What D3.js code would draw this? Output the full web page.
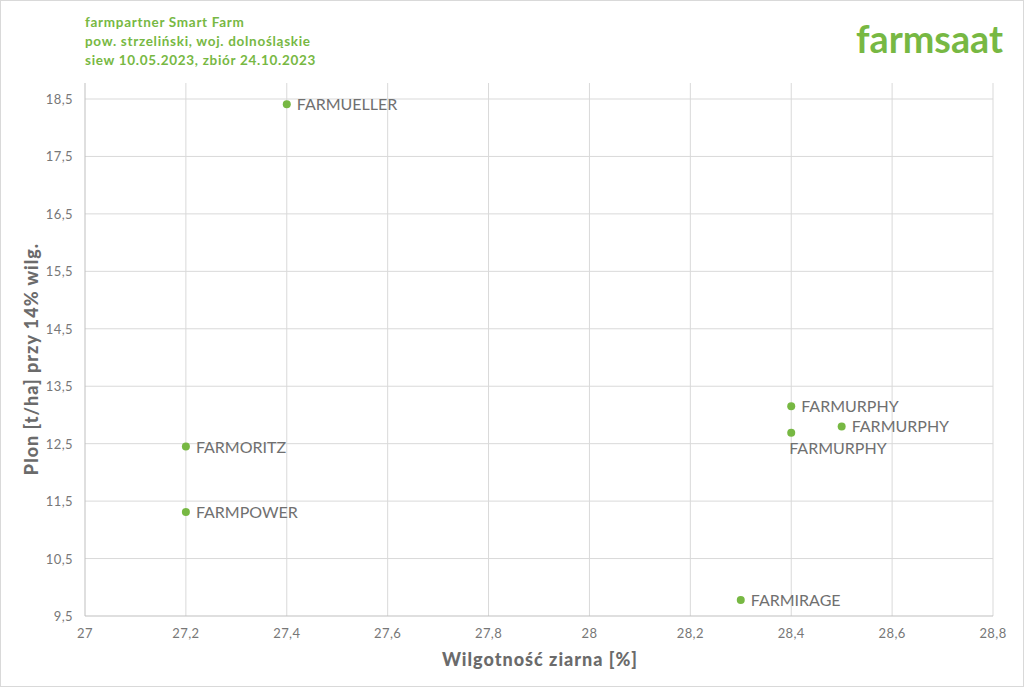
<!DOCTYPE html>
<html><head><meta charset="utf-8">
<script src="https://cdn.jsdelivr.net/npm/d3@7"></script>
<style>body{margin:0;background:#fff;}svg{display:block;}</style>
</head><body>
<svg id="c" width="1024" height="687"></svg>
<script>
const names = ["FARMUELLER","FARMORITZ","FARMPOWER","FARMURPHY","FARMURPHY","FARMURPHY","FARMIRAGE"];
const moisture = [27.4, 27.2, 27.2, 28.4, 28.5, 28.4, 28.3];
const yieldT = [18.41, 12.45, 11.31, 13.15, 12.80, 12.69, 9.78];
const labelPos = ["right","right","right","right","right","below","right"];
const xTicks = [27, 27.2, 27.4, 27.6, 27.8, 28, 28.2, 28.4, 28.6, 28.8];
const yTicks = [9.5, 10.5, 11.5, 12.5, 13.5, 14.5, 15.5, 16.5, 17.5, 18.5];
const titleLines = ["farmpartner Smart Farm","pow. strzeliński, woj. dolnośląskie","siew 10.05.2023, zbiór 24.10.2023"];

const green = "#77b843", gray = "#6b6b6b";
const svg = d3.select("#c");
const font = "Lato, 'Open Sans', sans-serif";
svg.append("rect").attr("x",0.5).attr("y",0.5).attr("width",1023).attr("height",686).attr("fill","#fff").attr("stroke","#d9d9d9");

const x = d3.scaleLinear().domain([27, 28.8]).range([85, 993]);
const y = d3.scaleLinear().domain([9.5, 18.5]).range([616, 99]);
const plotTop = 83;
const fmt = v => String(+v.toFixed(1)).replace(".", ",");

const g = svg.append("g");
// grid
g.selectAll(".vg").data(xTicks.slice(1)).join("line")
  .attr("x1",d=>x(d)).attr("x2",d=>x(d)).attr("y1",plotTop).attr("y2",y(9.5))
  .attr("stroke","#d9d9d9").attr("stroke-width",1);
g.selectAll(".hg").data(yTicks.slice(1)).join("line")
  .attr("x1",x(27)).attr("x2",x(28.8)).attr("y1",d=>y(d)).attr("y2",d=>y(d))
  .attr("stroke","#d9d9d9").attr("stroke-width",1);
// axes lines
g.append("line").attr("x1",x(27)).attr("x2",x(27)).attr("y1",plotTop).attr("y2",y(9.5)).attr("stroke","#bfbfbf");
g.append("line").attr("x1",x(27)).attr("x2",x(28.8)).attr("y1",y(9.5)).attr("y2",y(9.5)).attr("stroke","#bfbfbf");

// tick labels
g.selectAll(".xt").data(xTicks).join("text")
  .attr("x",d=>x(d)).attr("y",638).attr("text-anchor","middle").attr("letter-spacing",0.4)
  .attr("font-family",font).attr("font-size",13).attr("fill","#777").text(fmt);
g.selectAll(".yt").data(yTicks).join("text")
  .attr("x",73).attr("y",d=>y(d)+5).attr("text-anchor","end").attr("letter-spacing",0.4)
  .attr("font-family",font).attr("font-size",13).attr("fill","#777").text(fmt);

// axis titles
svg.append("text").attr("x",540).attr("y",666).attr("text-anchor","middle").attr("letter-spacing",1)
  .attr("font-family",font).attr("font-weight",900).attr("font-size",18).attr("fill",gray)
  .text("Wilgotność ziarna [%]");
svg.append("text").attr("transform","translate(38,359) rotate(-90)").attr("text-anchor","middle").attr("letter-spacing",1)
  .attr("font-family",font).attr("font-weight",900).attr("font-size",18).attr("fill",gray)
  .text("Plon [t/ha] przy 14% wilg.");

// points
const data = names.map((n,i)=>({n, x:moisture[i], y:yieldT[i], p:labelPos[i]}));
g.selectAll(".pt").data(data).join("circle")
  .attr("cx",d=>x(d.x)).attr("cy",d=>y(d.y)).attr("r",4).attr("fill",green);
g.selectAll(".lb").data(data).join("text")
  .attr("x",d=>d.p==="below" ? x(d.x)-2 : x(d.x)+10)
  .attr("y",d=>d.p==="below" ? y(d.y)+21 : y(d.y)+6)
  .attr("font-family",font).attr("font-size",16).attr("fill","#707070").text(d=>d.n);

// title
svg.selectAll(".tl").data(titleLines).join("text")
  .attr("x",85).attr("y",(d,i)=>27+i*19).attr("letter-spacing",0.7)
  .attr("font-family",font).attr("font-weight","bold").attr("font-size",13.5).attr("fill",green).text(d=>d);

// logo
svg.append("text").attr("x",856).attr("y",53).attr("font-family",font).attr("font-weight","bold")
  .attr("font-size",38).attr("fill",green).attr("textLength",147).attr("lengthAdjust","spacingAndGlyphs").text("farmsaat");
</script>
</body></html>
